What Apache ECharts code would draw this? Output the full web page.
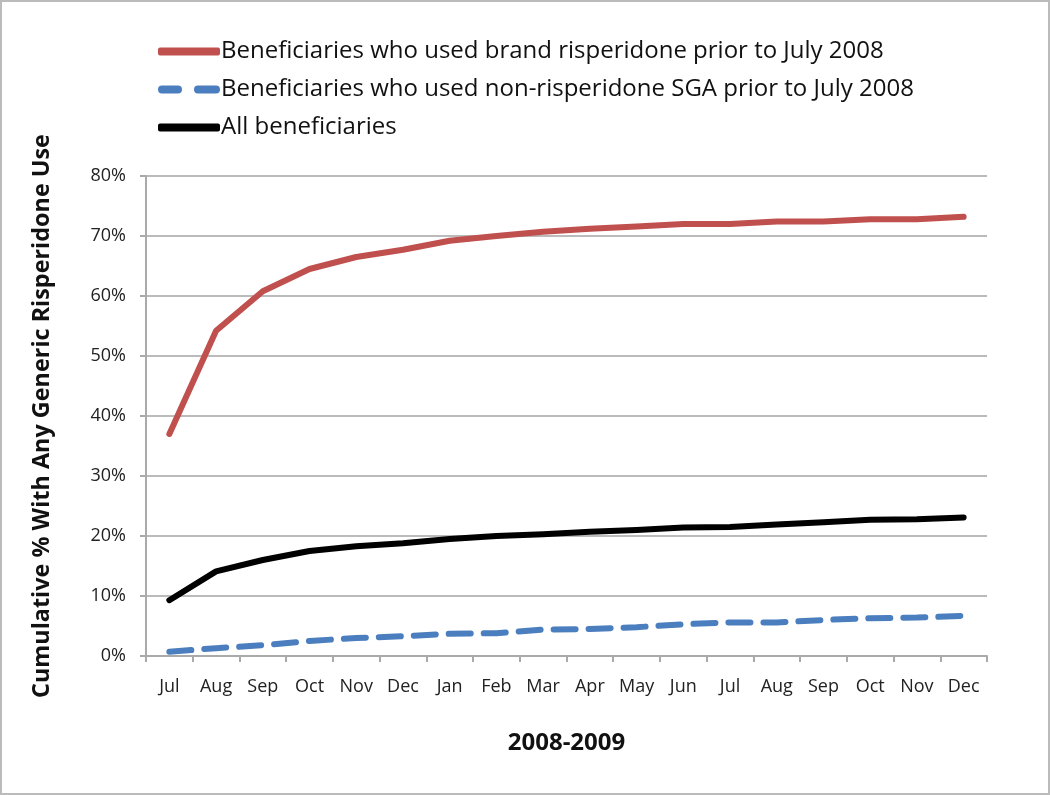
<!DOCTYPE html>
<html><head><meta charset="utf-8">
<script src="https://cdn.jsdelivr.net/npm/echarts@6/dist/echarts.min.js"></script>
<style>html,body{margin:0;padding:0;background:#fff}#c{width:1050px;height:795px;box-sizing:border-box;border:2px solid #bbb}</style>
</head><body><div id="c"></div>
<script>
const months = ['Jul','Aug','Sep','Oct','Nov','Dec','Jan','Feb','Mar','Apr','May','Jun','Jul','Aug','Sep','Oct','Nov','Dec'];
const brandName = 'Beneficiaries who used brand risperidone prior to July 2008';
const sgaName = 'Beneficiaries who used non-risperidone SGA prior to July 2008';
const allName = 'All beneficiaries';
const brandVals = [37.0,54.2,60.8,64.5,66.5,67.7,69.2,70.0,70.7,71.2,71.6,72.0,72.0,72.4,72.4,72.8,72.8,73.2];
const sgaVals = [0.7,1.3,1.8,2.5,3.0,3.3,3.7,3.8,4.4,4.5,4.8,5.3,5.6,5.6,6.0,6.3,6.4,6.7];
const allVals = [9.3,14.1,16.0,17.5,18.3,18.8,19.5,20.0,20.3,20.7,21.0,21.4,21.5,21.9,22.3,22.7,22.8,23.1];
const yTicks = [0,10,20,30,40,50,60,70,80];

const RED = '#c0504d', BLUE = '#4a7ebf', BLACK = '#000';
const dashIcon = 'path://M4,0 H20 A4,4 0 0 1 20,8 H4 A4,4 0 0 1 4,0 Z M40,0 H58 A4,4 0 0 1 58,8 H40 A4,4 0 0 1 40,0 Z';
const chart = echarts.init(document.getElementById('c'));
const font = '"Open Sans", sans-serif';
chart.setOption({
  animation:false,
  textStyle:{fontFamily:font},
  legend:{
    orient:'vertical', left:151, top:29, itemGap:7, itemWidth:62, itemHeight:8,
    textStyle:{fontSize:24, color:'#111', fontFamily:font, padding:[0,0,0,-4], lineHeight:31},
    data:[
      {name:brandName, icon:'roundRect', itemStyle:{color:RED}},
      {name:sgaName, icon:dashIcon, itemStyle:{color:BLUE}},
      {name:allName, icon:'roundRect', itemStyle:{color:BLACK}}
    ]
  },
  grid:{left:144, right:61, top:174, bottom:137, containLabel:false},
  xAxis:{
    type:'category', data:months, boundaryGap:true,
    name:'2008-2009', nameLocation:'middle', nameGap:75,
    nameTextStyle:{fontSize:24, fontWeight:'bold', color:'#111', fontFamily:font},
    axisLine:{lineStyle:{color:'#aaa', width:2}},
    axisTick:{show:true, length:6, lineStyle:{color:'#aaa', width:2}},
    axisLabel:{fontSize:18, color:'#222', margin:22, fontFamily:font}
  },
  yAxis:{
    type:'value', min:0, max:80, interval:10,
    name:'Cumulative % With Any Generic Risperidone Use', nameLocation:'middle', nameGap:92,
    nameTextStyle:{fontSize:23.4, fontWeight:'bold', color:'#111', fontFamily:font},
    axisLine:{show:true, lineStyle:{color:'#aaa', width:2}},
    axisTick:{show:true, length:6, lineStyle:{color:'#aaa', width:2}},
    axisLabel:{fontSize:18, color:'#222', margin:20, fontFamily:font, formatter:v=>v+'%'},
    splitLine:{lineStyle:{color:'#bbb', width:2}}
  },
  series:[
    {name:brandName, type:'line', data:brandVals, symbol:'none', lineStyle:{color:RED, width:6, cap:'round', join:'round'}, itemStyle:{color:RED}},
    {name:sgaName, type:'line', data:sgaVals, symbol:'none', lineStyle:{color:BLUE, width:6, type:[22,13], cap:'round'}, itemStyle:{color:BLUE}},
    {name:allName, type:'line', data:allVals, symbol:'none', lineStyle:{color:BLACK, width:6, cap:'round', join:'round'}, itemStyle:{color:BLACK}}
  ]
});
</script></body></html>
